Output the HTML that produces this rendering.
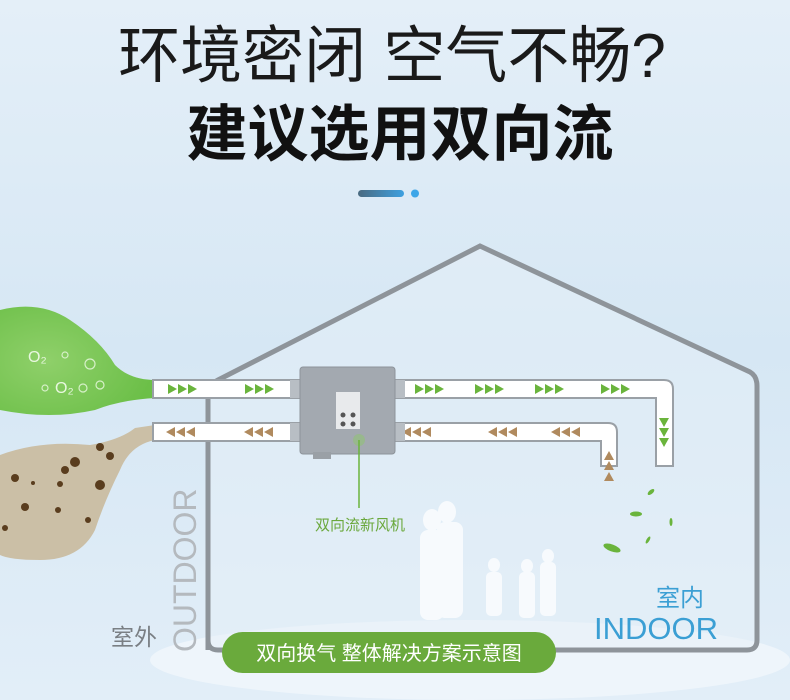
<!DOCTYPE html>
<html><head><meta charset="utf-8"><style>
html,body{margin:0;padding:0;width:790px;height:700px;overflow:hidden;}
body{background:#dceaf5;}
svg{display:block}
text{font-family:"Liberation Sans","Noto Sans CJK SC",sans-serif;}
</style></head><body>
<svg width="790" height="700" viewBox="0 0 790 700" xmlns="http://www.w3.org/2000/svg">
<defs>
<linearGradient id="bg" x1="0" y1="0" x2="0" y2="1">
<stop offset="0" stop-color="#e4eff8"/><stop offset="0.5" stop-color="#d6e7f4"/><stop offset="1" stop-color="#e2eef8"/>
</linearGradient>
<linearGradient id="bar" x1="0" x2="1"><stop offset="0" stop-color="#4a6a80"/><stop offset="1" stop-color="#3da0e0"/></linearGradient>
<radialGradient id="grn" cx="0.3" cy="0.5" r="0.7"><stop offset="0" stop-color="#8fd06a"/><stop offset="1" stop-color="#6cbf48"/></radialGradient>
<clipPath id="cl"><rect width="790" height="700"/></clipPath>
</defs>
<rect width="790" height="700" fill="url(#bg)"/>
<ellipse cx="470" cy="660" rx="320" ry="40" fill="#eef5fb" clip-path="url(#cl)"/>
<text x="392" y="77" font-size="62" text-anchor="middle" fill="#1a1a1a">环境密闭 空气不畅?</text>
<text x="400" y="155" font-size="61" font-weight="bold" text-anchor="middle" fill="#111">建议选用双向流</text>
<rect x="358" y="190" width="46" height="7" rx="3.5" fill="url(#bar)"/>
<circle cx="415" cy="193.5" r="4" fill="#3da6e8"/>
<path d="M208 650 V395 Q208 385 218 380 L480 246 L750 372 Q757 376 757 386 V640 Q757 650 747 650 H218 Q208 650 208 640" fill="#e6f0f8" fill-opacity="0.5" stroke="#8e949a" stroke-width="5"/>
<path d="M0 310 Q40 300 70 320 Q100 340 115 365 Q130 380 155 380 V398 Q120 400 95 410 Q50 420 0 410 Z" fill="url(#grn)"/>
<g fill="none" stroke="#d6f0c8" stroke-width="1.2"><circle cx="90" cy="364" r="5"/><circle cx="83" cy="388" r="4"/><circle cx="100" cy="385" r="4"/><circle cx="65" cy="355" r="3"/><circle cx="45" cy="388" r="3"/></g>
<text x="28" y="362" font-size="16" fill="#e8f7df">O₂</text>
<text x="55" y="393" font-size="16" fill="#e8f7df">O₂</text>
<path d="M0 455 Q40 440 90 445 Q120 440 135 428 L155 425 V440 Q130 445 120 470 Q105 500 95 530 Q80 560 40 560 Q10 560 0 555 Z" fill="#cbbfa6"/>
<g fill="#5a3d1e"><circle cx="100" cy="447" r="4"/><circle cx="75" cy="462" r="5"/><circle cx="110" cy="456" r="4"/><circle cx="65" cy="470" r="4"/><circle cx="15" cy="478" r="4"/><circle cx="33" cy="483" r="2"/><circle cx="25" cy="507" r="4"/><circle cx="60" cy="484" r="3"/><circle cx="100" cy="485" r="5"/><circle cx="58" cy="510" r="3"/><circle cx="88" cy="520" r="3"/><circle cx="5" cy="528" r="3"/></g>
<g fill="#fff" stroke="#9aa0a6" stroke-width="2">
<path d="M153 380 H664 Q673 380 673 389 V466 H656 V398 H153 Z"/>
<path d="M153 423 H608 Q617 423 617 432 V466 H601 V441 H153 Z"/>
</g>
<g fill="#6ab43c">
<g id="ga"><path d="M168 384l9 5l-9 5z"/><path d="M178 384l9 5l-9 5z"/><path d="M188 384l9 5l-9 5z"/></g>
<use href="#ga" x="77"/><use href="#ga" x="247"/><use href="#ga" x="307"/><use href="#ga" x="367"/><use href="#ga" x="433"/>
<path d="M659 418l5 9l5-9z"/><path d="M659 428l5 9l5-9z"/><path d="M659 438l5 9l5-9z"/>
</g>
<g fill="#b08a5e">
<g id="ba"><path d="M175 427l-9 5l9 5z"/><path d="M185 427l-9 5l9 5z"/><path d="M195 427l-9 5l9 5z"/></g>
<use href="#ba" x="78"/><use href="#ba" x="236"/><use href="#ba" x="322"/><use href="#ba" x="385"/>
<path d="M604 460l5-9l5 9z"/><path d="M604 470l5-9l5 9z"/><path d="M604 481l5-9l5 9z"/>
</g>
<rect x="290" y="380" width="12" height="18" fill="#b8bec4"/><rect x="290" y="423" width="12" height="18" fill="#b8bec4"/>
<rect x="393" y="380" width="12" height="18" fill="#b8bec4"/><rect x="393" y="423" width="12" height="18" fill="#b8bec4"/>
<rect x="300" y="367" width="95" height="87" rx="3" fill="#a3a9b0" stroke="#8d939a"/>
<rect x="313" y="452" width="18" height="7" fill="#9aa0a6"/>
<rect x="336" y="392" width="24" height="37" fill="#e8eaec"/>
<g fill="#555"><circle cx="343" cy="415" r="2.5"/><circle cx="353" cy="415" r="2.5"/><circle cx="343" cy="424" r="2.5"/><circle cx="353" cy="424" r="2.5"/></g>
<circle cx="359" cy="440" r="6" fill="#8ec86a" opacity="0.5"/>
<line x1="359" y1="440" x2="359" y2="508" stroke="#6ab43c" stroke-width="1.5"/>
<text x="360" y="530" font-size="15" text-anchor="middle" fill="#6aa83c">双向流新风机</text>
<g fill="#ffffff" opacity="0.75">
<ellipse cx="432" cy="520" rx="9" ry="11"/><rect x="420" y="530" width="24" height="90" rx="8"/>
<ellipse cx="447" cy="512" rx="9" ry="11"/><rect x="437" y="522" width="26" height="96" rx="8"/>
<ellipse cx="494" cy="565" rx="6" ry="7"/><rect x="486" y="572" width="16" height="44" rx="5"/>
<ellipse cx="527" cy="566" rx="6" ry="7"/><rect x="519" y="572" width="16" height="46" rx="5"/>
<ellipse cx="548" cy="556" rx="6" ry="7"/><rect x="540" y="562" width="16" height="54" rx="5"/>
</g>
<g fill="#6ab43c"><ellipse cx="612" cy="548" rx="9" ry="3.5" transform="rotate(20 612 548)"/><ellipse cx="636" cy="514" rx="6" ry="2.5"/><ellipse cx="651" cy="492" rx="4" ry="2" transform="rotate(-40 651 492)"/><ellipse cx="671" cy="522" rx="1.5" ry="4"/><ellipse cx="648" cy="540" rx="1.5" ry="4" transform="rotate(30 648 540)"/></g>
<text x="111" y="645" font-size="23" fill="#7a7f84">室外</text>
<text transform="translate(196 652) rotate(-90)" font-size="32" fill="#b4b9be">OUTDOOR</text>
<text x="656" y="606" font-size="24" fill="#3b9fd4">室内</text>
<text x="594" y="639" font-size="31" fill="#3b9fd4">INDOOR</text>
<rect x="222" y="632" width="334" height="41" rx="20.5" fill="#6aaa3c"/>
<text x="389" y="660" font-size="20" text-anchor="middle" fill="#fff">双向换气 整体解决方案示意图</text>
</svg>
</body></html>
